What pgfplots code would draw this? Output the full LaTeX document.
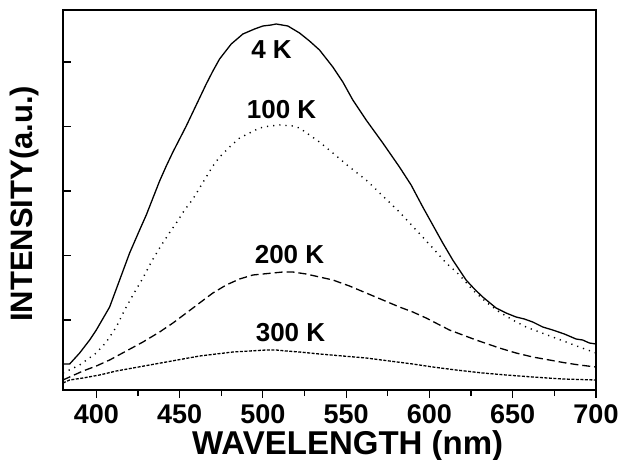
\documentclass[border=0pt]{standalone}
\usepackage{pgfplots}
\pgfplotsset{compat=1.18}
\usepackage{fontspec}
\setmainfont{Liberation Sans}
\begin{document}
\begin{tikzpicture}
\path[use as bounding box] (-63pt,-70pt) rectangle (555pt,390pt);
\begin{axis}[
  at={(0pt,0pt)}, anchor=south west,
  scale only axis, width=533pt, height=380pt,
  xmin=380, xmax=700, ymin=0, ymax=380,
  axis line style={line width=1.8pt},
  xtick={400,450,...,700},
  minor xtick={425,475,...,675},
  ytick={70,134.5,199,263.5,328},
  yticklabels={},
  xtick pos=bottom, ytick pos=left,
  xtick align=outside, ytick align=inside,
  major tick length=8pt, minor tick length=6pt,
  tick style={line width=1.2pt, black},
  /pgf/number format/assume math mode=true,
  xticklabel style={font=\fontsize{27}{32}\selectfont\bfseries, yshift=-3pt},
  xlabel={WAVELENGTH (nm)},
  ylabel={INTENSITY(a.u.)},
  xlabel style={at={(axis description cs:0.534,0)}, anchor=center, yshift=-56pt, font=\fontsize{33}{39}\selectfont\bfseries},
  ylabel style={at={(axis description cs:-0.0732,0.49)}, anchor=center, font=\fontsize{31}{37}\selectfont\bfseries},
  every axis plot/.append style={black, line width=1.3pt},
]
% 4 K
\addplot[solid] coordinates {
(380,26) (384,26) (390,37) (396,50) (400,60) (408,83) (414,110) (420,137) (426,160) (430,175) (434,192) (438,209)
(442,224) (446,238) (450,251) (454,264) (458,278) (462,292) (466,306) (470,319) (474,331) (481,346) (488,356) (495,361) (500,364) (505,365) (508,366)
(515,364) (522,357) (528,349) (534,340) (542,323) (548,308) (554,290) (562,270) (572,247) (582,223)
(589,205) (596,183) (602,165) (608,147) (614,130) (622,110) (627,101) (632,93) (640,82) (646,77) (652,73)
(657,71) (662,68) (668,63) (674,60) (681,56) (688,51) (692,50) (696,47) (700,46)
};
% 100 K
\addplot[line width=1.4pt, dash pattern=on 1.2pt off 5pt] coordinates {
(380,17) (390,25) (400,37) (406,48) (412,63) (417,80) (422,95) (428,112) (433,128) (438,142) (443,155) (448,167)
(453,180) (458,191) (462,202) (466,213) (470,224) (474,233) (480,243) (486,252) (492,257) (498,262) (504,264) (510,265) (518,264)
(522,262) (528,255) (534,248) (542,237) (552,223) (562,210) (572,194) (582,178) (592,160) (602,142)
(610,127) (618,115) (626,100) (634,88) (642,78) (650,70) (658,63) (666,58) (674,53) (682,48) (690,43) (700,37)
};
% 200 K
\addplot[dash pattern=on 8pt off 4pt] coordinates {
(380,10) (384,13) (392,19) (400,24) (408,30) (418,39) (428,48) (438,58) (446,67) (454,77) (462,87)
(470,97) (478,105) (486,111) (494,115) (500,116) (506,117) (512,118) (518,118) (526,116)
(534,113) (542,110) (552,104) (562,97) (572,90) (582,83) (590,78) (598,72) (605,66) (612,60)
(620,55) (628,50) (635,46) (642,42) (652,37) (662,33) (672,30) (682,27) (690,25) (700,23)
};
% 300 K
\addplot[dash pattern=on 3pt off 1.5pt] coordinates {
(380,7) (384,10) (392,12) (402,15) (412,19) (422,22) (432,25) (442,28) (452,31) (462,34) (472,36)
(482,38) (492,39) (502,40) (508,40) (514,39) (522,38) (534,36) (548,34) (562,32) (576,29)
(590,26) (602,23) (616,20) (632,17) (646,15) (662,13) (680,11) (700,10)
};
\node[font=\fontsize{26}{31}\selectfont\bfseries] at (axis cs:505.2,340) {4 K};
\node[font=\fontsize{26}{31}\selectfont\bfseries] at (axis cs:511.2,280) {100 K};
\node[font=\fontsize{26}{31}\selectfont\bfseries] at (axis cs:516,135) {200 K};
\node[font=\fontsize{26}{31}\selectfont\bfseries] at (axis cs:516.6,57) {300 K};
\end{axis}
\end{tikzpicture}
\end{document}
